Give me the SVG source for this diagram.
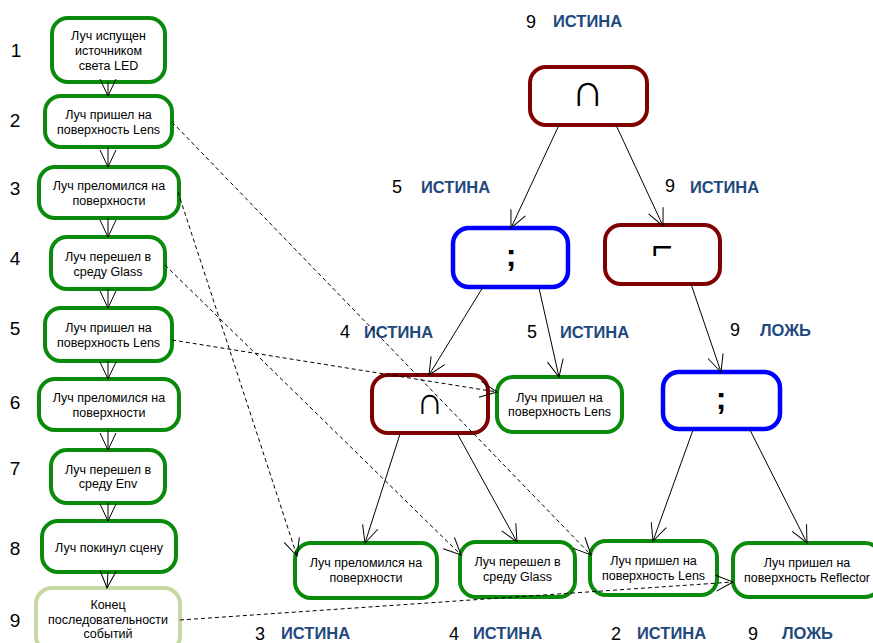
<svg xmlns="http://www.w3.org/2000/svg" width="873" height="643" viewBox="0 0 873 643">
<defs>
<marker id="arr" markerUnits="userSpaceOnUse" markerWidth="20" markerHeight="20" viewBox="0 0 20 20" refX="18" refY="10" orient="auto">
<path d="M1,2 L18,10 L1,18" fill="none" stroke="#000" stroke-width="1"/>
</marker>
<style>
.g{fill:#fff;stroke:#0a8a0a;stroke-width:4}
.g9{fill:#fff;stroke:#c6d9a3;stroke-width:4}
.r{fill:#fff;stroke:#800000;stroke-width:4}
.b{fill:#fff;stroke:#0000ff;stroke-width:4.5}
.t{font-family:"Liberation Sans",Arial,sans-serif;font-size:12.5px;fill:#000;text-anchor:middle}
.n{font-family:"Liberation Sans",Arial,sans-serif;font-size:19px;fill:#000;text-anchor:middle}
.d{font-family:"Liberation Sans",Arial,sans-serif;font-size:18px;fill:#000}
.l{font-family:"Liberation Sans",Arial,sans-serif;font-size:16.5px;font-weight:bold;fill:#1f497d}
.s{font-family:"Liberation Sans","DejaVu Sans",sans-serif;fill:#000;text-anchor:middle}
.c{fill:none;stroke:#000;stroke-width:1;marker-end:url(#arr)}
.dc{fill:none;stroke:#000;stroke-width:1;stroke-dasharray:4,3;marker-end:url(#arr)}
</style>
</defs>
<rect width="873" height="643" fill="#fff"/>

<g id="numbers">
<text class="n" x="16" y="57">1</text>
<text class="n" x="15" y="127">2</text>
<text class="n" x="15" y="195">3</text>
<text class="n" x="15" y="265">4</text>
<text class="n" x="15" y="335">5</text>
<text class="n" x="15" y="409">6</text>
<text class="n" x="15" y="475">7</text>
<text class="n" x="15" y="555">8</text>
<text class="n" x="15" y="627">9</text>
</g>

<g id="e1"><rect class="g" x="52" y="18" width="113" height="64" rx="16"/>
<text class="t" x="108.5" y="39.5">Луч испущен</text><text class="t" x="108.5" y="54.5">источником</text><text class="t" x="108.5" y="69.5">света LED</text></g>
<g id="e2"><rect class="g" x="45" y="96" width="127" height="51" rx="16"/>
<text class="t" x="108.5" y="119">Луч пришел на</text><text class="t" x="108.5" y="133.5">поверхность Lens</text></g>
<g id="e3"><rect class="g" x="39" y="167" width="140" height="51" rx="16"/>
<text class="t" x="109" y="190">Луч преломился на</text><text class="t" x="109" y="204.5">поверхности</text></g>
<g id="e4"><rect class="g" x="51" y="237" width="114" height="52" rx="16"/>
<text class="t" x="108" y="261">Луч перешел в</text><text class="t" x="108" y="275.5">среду Glass</text></g>
<g id="e5"><rect class="g" x="45" y="308" width="127" height="53" rx="16"/>
<text class="t" x="108.5" y="332">Луч пришел на</text><text class="t" x="108.5" y="346.5">поверхность Lens</text></g>
<g id="e6"><rect class="g" x="39" y="379" width="140" height="51" rx="16"/>
<text class="t" x="109" y="402">Луч преломился на</text><text class="t" x="109" y="416.5">поверхности</text></g>
<g id="e7"><rect class="g" x="51" y="450" width="114" height="53" rx="16"/>
<text class="t" x="108" y="473.5">Луч перешел в</text><text class="t" x="108" y="488">среду Env</text></g>
<g id="e8"><rect class="g" x="42" y="521" width="134" height="51" rx="16"/>
<text class="t" x="109" y="551.5">Луч покинул сцену</text></g>
<g id="e9"><rect class="g9" x="36" y="588" width="144" height="64" rx="16"/>
<text class="t" x="108" y="608.5">Конец</text><text class="t" x="108" y="623.5">последовательности</text><text class="t" x="108" y="638">событий</text></g>

<g id="and1"><rect class="r" x="530" y="67" width="117" height="58" rx="16"/>
<text class="s" x="588" y="106" font-size="46">∩</text></g>
<g id="seq1"><rect class="b" x="453" y="228" width="115" height="59" rx="16"/>
<text class="s" x="511" y="266" font-size="32" font-weight="bold">;</text></g>
<g id="not1"><rect class="r" x="605" y="225" width="115" height="59" rx="16"/>
<text class="s" x="662" y="259" font-size="36" font-weight="bold">⌐</text></g>
<g id="and2"><rect class="r" x="372" y="375" width="116" height="58" rx="16"/>
<text class="s" x="430" y="414" font-size="38">∩</text></g>
<g id="lens1"><rect class="g" x="497" y="377" width="125" height="55" rx="16"/>
<text class="t" x="559.5" y="401.5">Луч пришел на</text><text class="t" x="559.5" y="416">поверхность Lens</text></g>
<g id="seq2"><rect class="b" x="663" y="372" width="117" height="57" rx="16"/>
<text class="s" x="721" y="409" font-size="32" font-weight="bold">;</text></g>
<g id="refr"><rect class="g" x="295" y="543" width="142" height="55" rx="16"/>
<text class="t" x="366" y="567">Луч преломился на</text><text class="t" x="366" y="582">поверхности</text></g>
<g id="glass"><rect class="g" x="460" y="542" width="115" height="55" rx="16"/>
<text class="t" x="517.5" y="566">Луч перешел в</text><text class="t" x="517.5" y="581">среду Glass</text></g>
<g id="lens2"><rect class="g" x="590" y="541" width="127" height="54" rx="16"/>
<text class="t" x="653.5" y="565">Луч пришел на</text><text class="t" x="653.5" y="579.5">поверхность Lens</text></g>
<g id="refl"><rect class="g" x="733" y="543" width="148" height="54" rx="16"/>
<text class="t" x="807" y="567">Луч пришел на</text><text class="t" x="807" y="581.5">поверхность Reflector</text></g>

<g id="labels">
<text class="d" x="526" y="28">9</text><text class="l" x="553" y="27">ИСТИНА</text>
<text class="d" x="392" y="193">5</text><text class="l" x="421" y="193">ИСТИНА</text>
<text class="d" x="665" y="192">9</text><text class="l" x="690" y="193">ИСТИНА</text>
<text class="d" x="340" y="338">4</text><text class="l" x="364" y="338">ИСТИНА</text>
<text class="d" x="527" y="338">5</text><text class="l" x="560" y="338">ИСТИНА</text>
<text class="d" x="730" y="336">9</text><text class="l" x="760" y="336">ЛОЖЬ</text>
<text class="d" x="255" y="640">3</text><text class="l" x="281" y="639">ИСТИНА</text>
<text class="d" x="449" y="640">4</text><text class="l" x="473" y="639">ИСТИНА</text>
<text class="d" x="611" y="640">2</text><text class="l" x="637" y="639">ИСТИНА</text>
<text class="d" x="748" y="640">9</text><text class="l" x="782" y="639">ЛОЖЬ</text>
</g>

<g id="connectors">
<line class="c" x1="108" y1="82" x2="108" y2="96"/>
<line class="c" x1="108" y1="147" x2="108" y2="167"/>
<line class="c" x1="108" y1="218" x2="108" y2="237"/>
<line class="c" x1="108" y1="289" x2="108" y2="308"/>
<line class="c" x1="108" y1="361" x2="108" y2="379"/>
<line class="c" x1="108" y1="430" x2="108" y2="450"/>
<line class="c" x1="108" y1="503" x2="108" y2="521"/>
<line class="c" x1="108" y1="572" x2="107" y2="588"/>

<line class="c" x1="559" y1="125" x2="511" y2="228"/>
<line class="c" x1="616" y1="125" x2="663" y2="226"/>
<line class="c" x1="483" y1="287" x2="429" y2="375"/>
<line class="c" x1="539" y1="288" x2="559" y2="377"/>
<line class="c" x1="691" y1="284" x2="721" y2="372"/>
<line class="c" x1="400" y1="434" x2="365" y2="543"/>
<line class="c" x1="457" y1="433" x2="517" y2="542"/>
<line class="c" x1="693" y1="430" x2="653" y2="541"/>
<line class="c" x1="750" y1="430" x2="807" y2="543"/>

<line class="dc" x1="172" y1="122" x2="591" y2="555"/>
<line class="dc" x1="178" y1="192" x2="297" y2="556"/>
<line class="dc" x1="165" y1="265" x2="461" y2="555"/>
<line class="dc" x1="172" y1="340" x2="497" y2="392"/>
<line class="dc" x1="180" y1="620" x2="733" y2="582"/>
</g>
</svg>
